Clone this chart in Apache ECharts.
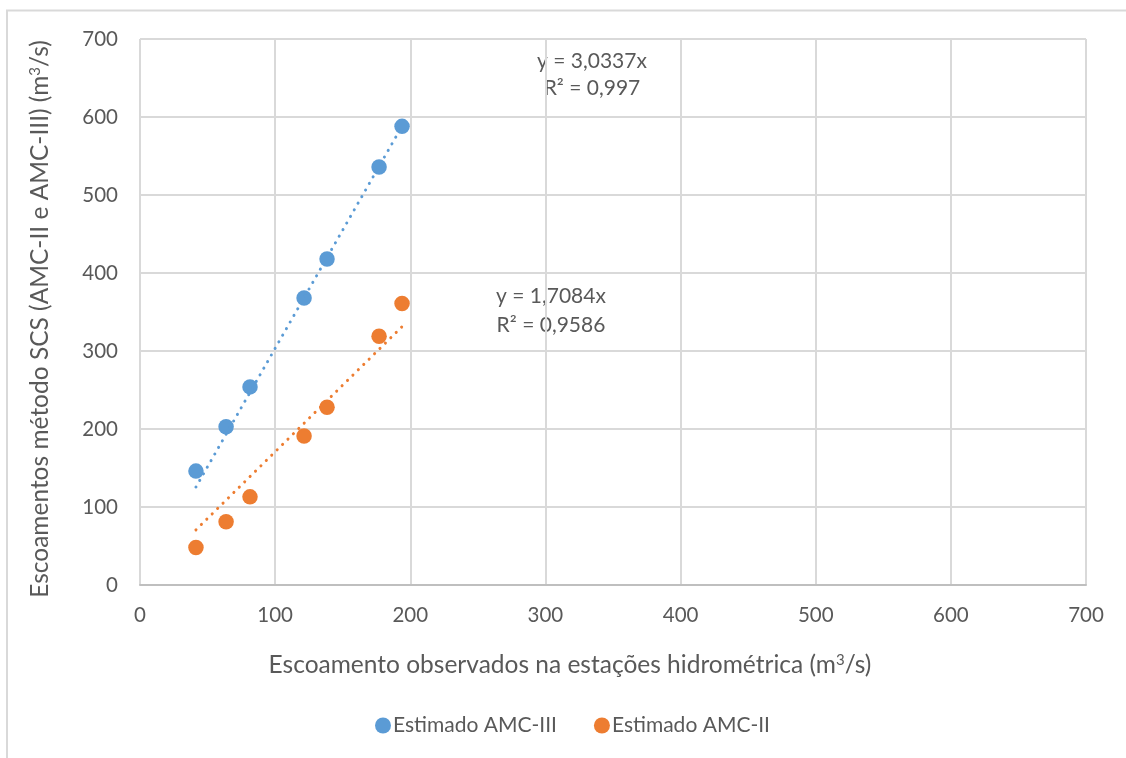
<!DOCTYPE html>
<html>
<head>
<meta charset="utf-8">
<script src="https://cdn.jsdelivr.net/npm/echarts@6/dist/echarts.min.js"></script>
<style>
  html, body { margin: 0; padding: 0; background: #fff; }
  #chart { width: 1126px; height: 758px; }
</style>
</head>
<body>
<div id="chart"></div>
<script>
// Observed discharge at the gauging stations (m³/s)
const observed = [41.4, 63.7, 81.4, 121.4, 138.4, 176.9, 193.9];
// SCS estimates for the two antecedent moisture conditions (m³/s)
const estimatedAMC3 = [146, 203, 254, 368, 418, 536, 588];
const estimatedAMC2 = [48, 81, 113, 191, 228, 319, 361];
// Fitted slopes of the zero-intercept linear trends and their R²
const slopeAMC3 = 3.0337, r2AMC3 = '0,997';
const slopeAMC2 = 1.7084, r2AMC2 = '0,9586';
const axisTicks = [0, 100, 200, 300, 400, 500, 600, 700];

const BLUE = '#5b9bd5';
const ORANGE = '#ed7d31';
const GREY = '#595959';
const FONT = 'Lato, "Open Sans", sans-serif';

const pairs = ys => observed.map((x, i) => [x, ys[i]]);
const xMin = Math.min(...observed), xMax = Math.max(...observed);
const trend = k => [[xMin, k * xMin], [xMax, k * xMax]];
const fmt = k => k.toFixed(4).replace('.', ',');

const chart = echarts.init(document.getElementById('chart'), null, { renderer: 'canvas' });

const dotted = color => ({ color, width: 3, type: [0.1, 7.5], cap: 'round' });
const supStyle = { s: { fontSize: 15, verticalAlign: 'top', padding: [0, 0, 10, 0], fill: GREY, fontFamily: FONT } };

chart.setOption({
  animation: false,
  backgroundColor: '#fff',
  textStyle: { fontFamily: FONT },
  grid: { left: 140, right: 40, top: 39, bottom: 173 },
  xAxis: {
    type: 'value', min: axisTicks[0], max: axisTicks[axisTicks.length - 1], interval: 100,
    axisLine: { lineStyle: { color: '#bfbfbf', width: 2 } },
    axisTick: { show: false },
    axisLabel: { color: GREY, fontSize: 20.5, margin: 20, fontFamily: FONT },
    splitLine: { lineStyle: { color: '#d9d9d9', width: 2 } }
  },
  yAxis: {
    type: 'value', min: axisTicks[0], max: axisTicks[axisTicks.length - 1], interval: 100,
    axisLine: { show: false },
    axisTick: { show: false },
    axisLabel: { color: GREY, fontSize: 20.5, margin: 22, fontFamily: FONT },
    splitLine: { lineStyle: { color: '#d9d9d9', width: 2 } }
  },
  legend: {
    bottom: 17, left: 370, itemGap: 37, itemWidth: 16, itemHeight: 16,
    icon: 'circle',
    textStyle: { color: GREY, fontSize: 21, fontFamily: FONT, padding: [0, 0, 0, -3] },
    data: ['Estimado AMC-III', 'Estimado AMC-II']
  },
  series: [
    {
      name: 'Estimado AMC-III', type: 'scatter', symbolSize: 15.5,
      itemStyle: { color: BLUE, opacity: 1 }, data: pairs(estimatedAMC3), z: 3
    },
    {
      name: 'Estimado AMC-II', type: 'scatter', symbolSize: 15.5,
      itemStyle: { color: ORANGE, opacity: 1 }, data: pairs(estimatedAMC2), z: 3
    },
    {
      name: 'trend AMC-III', type: 'line', data: trend(slopeAMC3), symbol: 'none',
      lineStyle: dotted(BLUE), z: 4, silent: true
    },
    {
      name: 'trend AMC-II', type: 'line', data: trend(slopeAMC2), symbol: 'none',
      lineStyle: dotted(ORANGE), z: 4, silent: true
    }
  ],
  graphic: [
    // outer chart frame
    { type: 'polyline', shape: { points: [[7, 770], [7, 10.5], [1140, 10.5]] },
      style: { stroke: '#d9d9d9', lineWidth: 2, fill: null }, silent: true },
    // axis titles
    { type: 'text', x: 570, y: 665,
      style: { text: 'Escoamento observados na estações hidrométrica (m{s|3}/s)', rich: supStyle,
        fill: GREY, fontSize: 24.5, fontFamily: FONT, align: 'center', verticalAlign: 'middle' } },
    { type: 'text', x: 40, y: 319, rotation: Math.PI / 2,
      style: { text: 'Escoamentos método SCS (AMC-II e AMC-III) (m{s|3}/s)', rich: supStyle,
        fill: GREY, fontSize: 24.5, fontFamily: FONT, align: 'center', verticalAlign: 'middle' } },
    // trend equations
    { type: 'text', x: 592, y: 75,
      style: { text: 'y = ' + fmt(slopeAMC3) + 'x\nR² = ' + r2AMC3, lineHeight: 27,
        fill: GREY, fontSize: 21, fontFamily: FONT, align: 'center', verticalAlign: 'middle' } },
    { type: 'text', x: 551, y: 311,
      style: { text: 'y = ' + fmt(slopeAMC2) + 'x\nR² = ' + r2AMC2, lineHeight: 29,
        fill: GREY, fontSize: 21, fontFamily: FONT, align: 'center', verticalAlign: 'middle' } }
  ]
});
</script>
</body>
</html>
